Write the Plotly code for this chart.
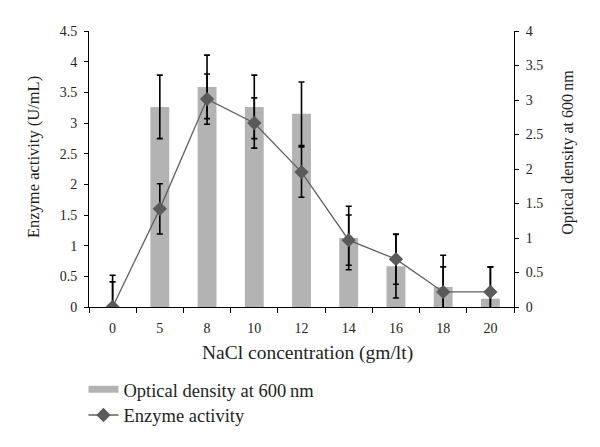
import plotly.graph_objects as go

categories = ["0", "5", "8", "10", "12", "14", "16", "18", "20"]
optical_density = [0.0, 2.90, 3.19, 2.90, 2.80, 1.00, 0.59, 0.29, 0.12]
optical_density_err = [0.46] * 9
enzyme_activity = [0.0, 1.60, 3.39, 3.00, 2.20, 1.09, 0.78, 0.245, 0.245]
enzyme_activity_err = [0.41] * 9
left_ticks = [0, 0.5, 1, 1.5, 2, 2.5, 3, 3.5, 4, 4.5]
right_ticks = [0, 0.5, 1, 1.5, 2, 2.5, 3, 3.5, 4]

FONT = "Liberation Serif"
TXT = "#231f20"
BAR_COLOR = "#b3b3b3"
OD_NAME = "Optical density at 600\u2009nm"

fig = go.Figure()
fig.add_trace(go.Bar(
    x=categories, y=optical_density, yaxis="y", name=OD_NAME,
    marker=dict(color=BAR_COLOR, line=dict(width=0)), width=0.4,
    error_y=dict(type="data", array=optical_density_err, color="black", thickness=1.6, width=3),
    showlegend=False,
))
# legend entry for the bars drawn as a wide flat swatch, like the original
fig.add_trace(go.Scatter(
    x=[None], y=[None], yaxis="y", name=OD_NAME, mode="lines",
    line=dict(color=BAR_COLOR, width=7), legend="legend", showlegend=True,
))
fig.add_trace(go.Scatter(
    x=categories, y=enzyme_activity, yaxis="y2", name="Enzyme activity", mode="lines+markers",
    line=dict(color="#606060", width=1.3),
    marker=dict(symbol="diamond", size=11, color="#5a5a5a"),
    error_y=dict(type="data", array=enzyme_activity_err, color="black", thickness=1.6, width=3),
    legend="legend2", showlegend=True,
))

axis_common = dict(showgrid=False, zeroline=False, showline=True, linecolor="black", linewidth=1,
                   ticks="outside", ticklen=4, tickcolor="black",
                   tickfont=dict(family=FONT, size=14, color=TXT))

fig.update_layout(
    width=592, height=439,
    margin=dict(l=81, r=86, t=23, b=140),
    paper_bgcolor="white", plot_bgcolor="white",
    showlegend=True,
    font=dict(family=FONT, size=14, color=TXT),
    xaxis=dict(type="category", categoryorder="array", categoryarray=categories,
               range=[-0.5, 8.5], showgrid=False, zeroline=False, showline=True,
               linecolor="black", linewidth=1, ticks="outside", ticklen=5, tickcolor="black",
               tickson="boundaries", tickfont=dict(family=FONT, size=14, color=TXT),
               ticklabelstandoff=8),
    yaxis=dict(side="right", range=[0, 4], tickvals=right_ticks, ticktext=[f"{v:g}" for v in right_ticks],
               ticklabelstandoff=4, **axis_common),
    yaxis2=dict(side="left", overlaying="y", range=[0, 4.5], tickvals=left_ticks,
                ticktext=[f"{v:g}" for v in left_ticks], ticklabelstandoff=4, **axis_common),
    legend=dict(x=-0.013, y=-0.3, xanchor="left", yanchor="middle", bgcolor="rgba(0,0,0,0)",
                font=dict(family=FONT, size=18.5, color=TXT)),
    legend2=dict(x=-0.013, y=-0.393, xanchor="left", yanchor="middle", bgcolor="rgba(0,0,0,0)",
                 font=dict(family=FONT, size=18.5, color=TXT)),
    annotations=[
        dict(text="Enzyme activity (U/mL)", xref="paper", yref="paper", x=-0.132, y=0.543,
             textangle=-90, showarrow=False, xanchor="center", yanchor="middle",
             font=dict(family=FONT, size=16.5, color=TXT)),
        dict(text=OD_NAME, xref="paper", yref="paper", x=1.127, y=0.562,
             textangle=-90, showarrow=False, xanchor="center", yanchor="middle",
             font=dict(family=FONT, size=16, color=TXT)),
        dict(text="NaCl concentration (gm/lt)", xref="paper", yref="paper", x=0.515, y=-0.167,
             showarrow=False, xanchor="center", yanchor="middle",
             font=dict(family=FONT, size=19.5, color=TXT)),
    ],
)

fig.write_html("out.html")
